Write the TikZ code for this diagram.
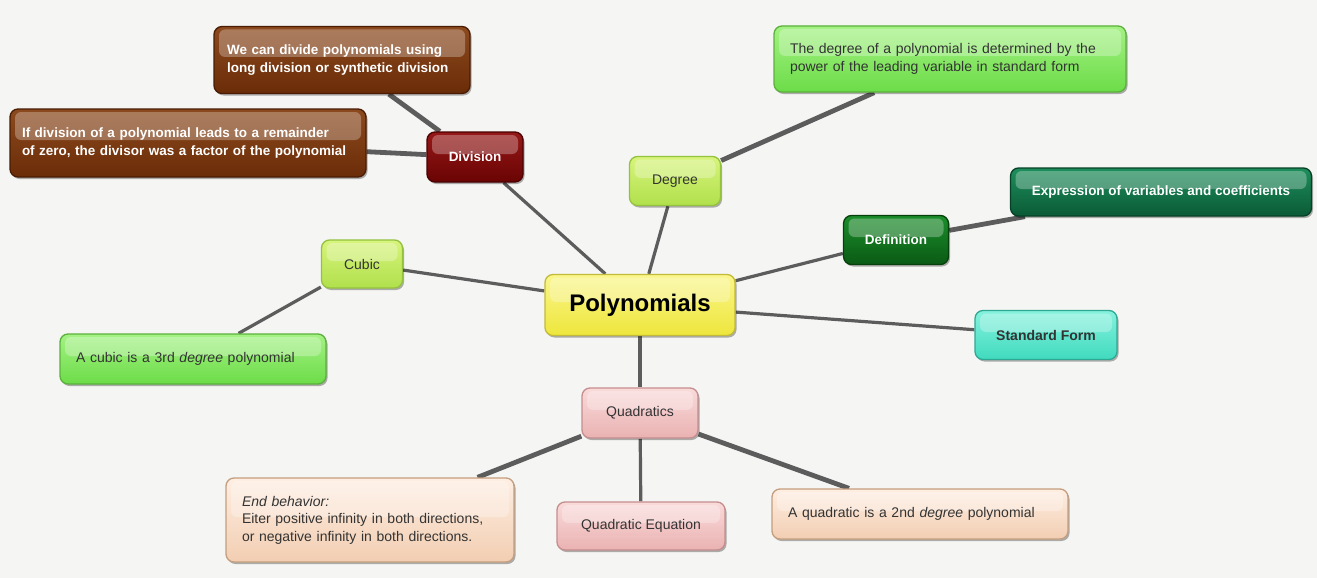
\documentclass[tikz,border=0pt]{standalone}
\usepackage{fontspec}
\setmainfont{Liberation Sans}
\usetikzlibrary{shadows,backgrounds,calc}
\definecolor{paper}{HTML}{F5F5F3}
\definecolor{edgegray}{HTML}{5C5C5C}
\definecolor{textgray}{HTML}{333333}
\definecolor{brownT}{HTML}{8C4A1E}
\definecolor{brownB}{HTML}{6A2C08}
\definecolor{brownD}{HTML}{4A1C04}
\definecolor{redT}{HTML}{961818}
\definecolor{redB}{HTML}{6A0404}
\definecolor{redD}{HTML}{4A0202}
\definecolor{lgT}{HTML}{A4F284}
\definecolor{lgB}{HTML}{6CDC48}
\definecolor{lgD}{HTML}{5CB03C}
\definecolor{ygT}{HTML}{D8F47C}
\definecolor{ygB}{HTML}{B0E04C}
\definecolor{ygD}{HTML}{94C23E}
\definecolor{dgT}{HTML}{1C8E2C}
\definecolor{dgB}{HTML}{0A5A14}
\definecolor{dgD}{HTML}{06400C}
\definecolor{tgT}{HTML}{1E8E5C}
\definecolor{tgB}{HTML}{0A5A36}
\definecolor{tgD}{HTML}{064026}
\definecolor{yeT}{HTML}{FAF68C}
\definecolor{yeB}{HTML}{EEE63C}
\definecolor{yeD}{HTML}{C2BA38}
\definecolor{aqT}{HTML}{86F2DE}
\definecolor{aqB}{HTML}{40DABE}
\definecolor{aqD}{HTML}{2EA892}
\definecolor{pkT}{HTML}{FADADA}
\definecolor{pkB}{HTML}{EAB2B2}
\definecolor{pkD}{HTML}{C48E8E}
\definecolor{peT}{HTML}{FEEEE2}
\definecolor{peB}{HTML}{F2CEB2}
\definecolor{peD}{HTML}{C49E7E}
\hyphenpenalty=10000
\begin{document}
\begin{tikzpicture}[x=1pt,y=-1pt,
  base/.style={rounded corners=8pt, line width=1.3pt, inner sep=0pt,
    font=\fontsize{14}{17.5}\selectfont,
    drop shadow={shadow xshift=1.5pt,shadow yshift=-2pt,opacity=0.3,fill=black},
    path picture={\fill[white,opacity=0.28,rounded corners=6pt]
      ($(path picture bounding box.north west)+(5pt,-3pt)$) rectangle
      ($(path picture bounding box.east)+(-5pt,3pt)$);}},
  darktxt/.style={text=white, font=\fontsize{13.5}{17.5}\selectfont\bfseries},
  lighttxt/.style={text=textgray},
  note/.style={align=left, inner xsep=16pt},
  single/.style={align=center},
  brownbox/.style={base, note, darktxt, top color=brownT, bottom color=brownB, draw=brownD},
  redbox/.style={base, single, darktxt, top color=redT, bottom color=redB, draw=redD},
  lgbox/.style={base, lighttxt, top color=lgT, bottom color=lgB, draw=lgD},
  ygbox/.style={base, single, lighttxt, top color=ygT, bottom color=ygB, draw=ygD},
  dgbox/.style={base, single, darktxt, top color=dgT, bottom color=dgB, draw=dgD},
  tgbox/.style={base, single, darktxt, top color=tgT, bottom color=tgB, draw=tgD},
  yebox/.style={base, single, text=black, top color=yeT, bottom color=yeB, draw=yeD,
    font=\fontsize{24}{28}\selectfont\bfseries},
  aqbox/.style={base, single, text=textgray, font=\fontsize{14}{17.5}\selectfont\bfseries,
    top color=aqT, bottom color=aqB, draw=aqD},
  pkbox/.style={base, single, lighttxt, top color=pkT, bottom color=pkB, draw=pkD},
  pebox/.style={base, note, lighttxt, top color=peT, bottom color=peB, draw=peD},
  link/.style={draw=edgegray, line width=3.2pt},
  thicklink/.style={draw=edgegray, line width=4.8pt}]
\useasboundingbox (0,0) rectangle (1317,578);

% nodes
\node[brownbox, text width=230pt, inner xsep=13pt, minimum height=67pt] (dtop) at (342,60)
  {We can divide polynomials using\\long division or synthetic division};
\node[brownbox, text width=332pt, inner xsep=12pt, minimum height=68pt] (dbot) at (188,143)
  {If division of a polynomial leads to a remainder\\of zero, the divisor was a factor of the polynomial};
\node[redbox, minimum width=96pt, minimum height=50pt] (div) at (475,157) {Division};
\node[lgbox, note, text width=320pt, minimum height=66pt] (degnote) at (950,59)
  {The degree of a polynomial is determined by the\\power of the leading variable in standard form};
\node[ygbox, minimum width=91pt, minimum height=49pt] (deg) at (675,181) {Degree};
\node[dgbox, minimum width=105pt, minimum height=49pt] (def) at (896,240) {Definition};
\node[tgbox, minimum width=301pt, minimum height=48pt] (expr) at (1161,192)
  {Expression of variables and coefficients};
\node[ygbox, minimum width=81pt, minimum height=48pt] (cubic) at (362,264) {Cubic};
\node[lgbox, note, text width=234pt, minimum height=50pt] (cubnote) at (193,359)
  {A cubic is a 3rd \emph{degree} polynomial};
\node[yebox, minimum width=190pt, minimum height=61pt] (poly) at (640,305) {Polynomials};
\node[aqbox, minimum width=142pt, minimum height=49pt] (std) at (1046,335) {Standard Form};
\node[pkbox, minimum width=116pt, minimum height=50pt] (quad) at (640,413) {Quadratics};
\node[pkbox, minimum width=168pt, minimum height=48pt] (qeq) at (641,526) {Quadratic Equation};
\node[pebox, text width=264pt, minimum height=50pt] (qnote) at (920,514)
  {A quadratic is a 2nd \emph{degree} polynomial};
\node[pebox, text width=256pt, minimum height=84pt] (endb) at (370,520)
  {\emph{End behavior:}\\Eiter positive infinity in both directions,\\or negative infinity in both directions.};

% connectors
\begin{scope}[on background layer]
\fill[paper] (0,0) rectangle (1317,578);
\draw[thicklink] (dtop) -- (div);
\draw[thicklink] (dbot) -- (div);
\draw[link] (div) -- (poly);
\draw[thicklink] (degnote) -- (deg);
\draw[link] (deg) -- (poly);
\draw[link] (def) -- (poly);
\draw[thicklink] (def) -- (expr);
\draw[link] (poly) -- (std);
\draw[link] (cubic) -- (poly);
\draw[link] (cubnote) -- (cubic);
\draw[link] (poly) -- (quad);
\draw[thicklink] (quad) -- (endb);
\draw[link] (quad) -- (qeq);
\draw[thicklink] (quad) -- (qnote);
\end{scope}
\end{tikzpicture}
\end{document}
